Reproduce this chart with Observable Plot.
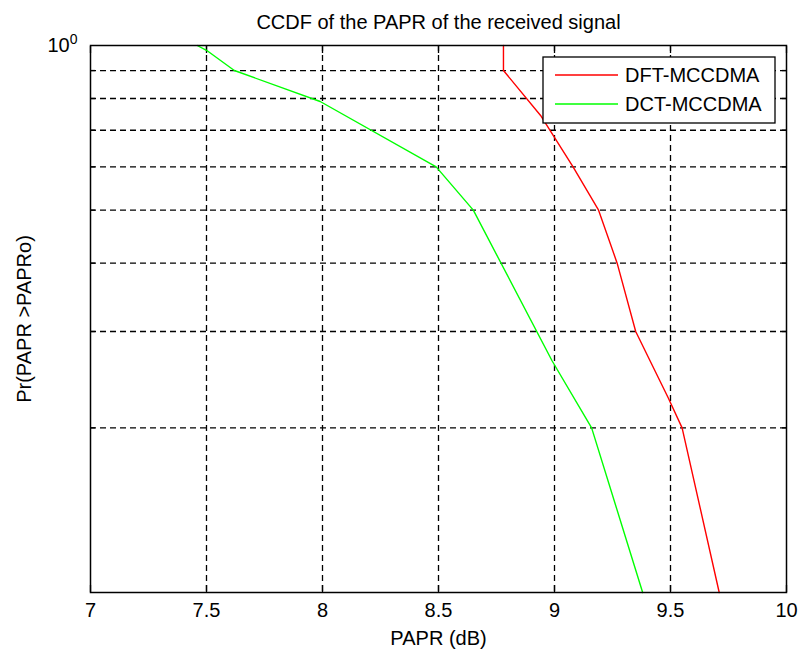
<!DOCTYPE html>
<html>
<head>
<meta charset="utf-8">
<script src="https://cdn.jsdelivr.net/npm/d3@7"></script>
<script src="https://cdn.jsdelivr.net/npm/@observablehq/plot@0.6"></script>
<style>
  html, body { margin: 0; padding: 0; background: #fff; }
  #chart svg { display: block; }
</style>
</head>
<body>
<div id="chart"></div>
<script>
// ---- data ----
const seriesNames = ["DFT-MCCDMA", "DCT-MCCDMA"];
const seriesColors = ["#ff0000", "#00ff00"];

const dftPapr = [8.78, 8.78, 8.94, 9.08, 9.19, 9.27, 9.35, 9.49, 9.55, 9.71];
const dftProb = [1.0, 0.9, 0.745, 0.6, 0.5, 0.4, 0.3, 0.227, 0.2, 0.1];

const dctPapr = [7.46, 7.50, 7.62, 7.99, 8.49, 8.65, 8.99, 9.16, 9.38];
const dctProb = [1.0, 0.98, 0.9, 0.79, 0.6, 0.5, 0.265, 0.2, 0.1];

const xTicks = [7, 7.5, 8, 8.5, 9, 9.5, 10];
const xGrid = [7.5, 8, 8.5, 9, 9.5];
const yGrid = [0.2, 0.3, 0.4, 0.5, 0.6, 0.7, 0.8, 0.9];
const yMajor = [1];

const titleText = "CCDF of the PAPR of the received signal";
const xLabel = "PAPR (dB)";
const yLabel = "Pr(PAPR >PAPRo)";

// ---- build table ----
const rows = [
  ...dftPapr.map((x, i) => ({series: seriesNames[0], x, y: dftProb[i]})),
  ...dctPapr.map((x, i) => ({series: seriesNames[1], x, y: dctProb[i]}))
];

const font = "Liberation Sans, Arial, Helvetica, sans-serif";

const chart = Plot.plot({
  width: 798,
  height: 652,
  marginLeft: 90,
  marginRight: 12,
  marginTop: 45,
  marginBottom: 60,
  style: {fontFamily: font, fontSize: "20px", color: "#000", background: "#fff"},
  x: {domain: [7, 10]},
  y: {type: "log", domain: [0.1, 1]},
  marks: [
    Plot.gridX(xGrid, {stroke: "#000", strokeOpacity: 1, strokeWidth: 1.3, strokeDasharray: "6,4"}),
    Plot.gridY(yGrid, {stroke: "#000", strokeOpacity: 1, strokeWidth: 1.3, strokeDasharray: "6,4"}),
    // bottom axis labels
    Plot.axisX({anchor: "bottom", ticks: xTicks, tickSize: 0, tickPadding: 10, fontSize: 20,
      tickFormat: d => String(d), label: xLabel, labelAnchor: "center", labelArrow: "none", labelOffset: 52}),
    // inward ticks
    Plot.axisX({anchor: "bottom", ticks: xTicks, tickSize: 7, dy: -7, tickFormat: () => "", label: null, strokeWidth: 1.3}),
    Plot.axisX({anchor: "top", ticks: xTicks, tickSize: 7, dy: 7, tickFormat: () => "", label: null, strokeWidth: 1.3}),
    Plot.axisY({anchor: "left", ticks: yGrid, tickSize: 5, dx: 5, tickFormat: () => "", label: null, strokeWidth: 1.3}),
    Plot.axisY({anchor: "right", ticks: yGrid, tickSize: 5, dx: -5, tickFormat: () => "", label: null, strokeWidth: 1.3}),
    // left axis label "10^0" and y title
    Plot.axisY({anchor: "left", ticks: yMajor, tickSize: 0, tickPadding: 13, fontSize: 20,
      tickFormat: () => "10", label: yLabel, labelAnchor: "center", labelArrow: "none", labelOffset: 74}),
    Plot.line(rows, {x: "x", y: "y", stroke: "series", strokeWidth: 1.4}),
    Plot.frame({stroke: "#000", strokeWidth: 1.5}),
    Plot.text([titleText], {frameAnchor: "top", dy: -31, fontSize: 20, fill: "#000"})
  ],
  color: {domain: seriesNames, range: seriesColors}
});

document.getElementById("chart").appendChild(chart);

// superscript exponent for the "10" tick label
const svg = d3.select(chart);
svg.selectAll("text").filter(function() { return this.textContent === "10" && this.closest("g[aria-label='y-axis tick label']"); })
  .each(function() {
    d3.select(this).append("tspan").attr("dy", "-0.55em").attr("font-size", 14).text("0");
  });

// legend box (top right, MATLAB style)
const leg = svg.append("g").attr("font-family", font).attr("font-size", 20).attr("text-anchor", "start");
leg.append("rect").attr("x", 543).attr("y", 57).attr("width", 232).attr("height", 66)
  .attr("fill", "#fff").attr("stroke", "#000").attr("stroke-width", 1.3);
seriesNames.forEach((name, i) => {
  const cy = 75 + i * 29;
  leg.append("line").attr("x1", 555).attr("x2", 618).attr("y1", cy).attr("y2", cy)
    .attr("stroke", seriesColors[i]).attr("stroke-width", 1.4);
  leg.append("text").attr("x", 625).attr("y", cy).attr("dy", "0.36em")
    .attr("text-anchor", "start").attr("fill", "#000").text(name);
});
</script>
</body>
</html>
